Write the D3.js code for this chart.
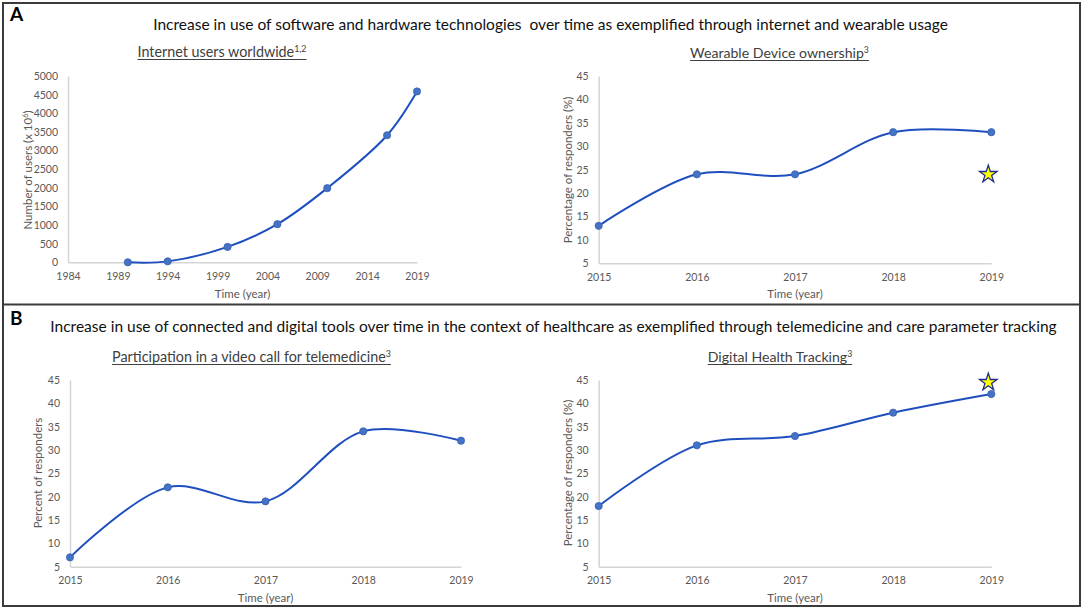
<!DOCTYPE html>
<html>
<head>
<meta charset="utf-8">
<script src="https://cdn.jsdelivr.net/npm/d3@7"></script>
<style>
  body { margin: 0; background: #fff; }
  svg { display: block; font-family: Lato, "Open Sans", sans-serif; }
</style>
</head>
<body>
<script>
// data
const internetYears = [1990, 1994, 2000, 2005, 2010, 2016, 2019];
const internetUsers = [0, 25, 413, 1023, 1990, 3410, 4585];
const internetXTicks = [1984, 1989, 1994, 1999, 2004, 2009, 2014, 2019];
const internetYTicks = [0, 500, 1000, 1500, 2000, 2500, 3000, 3500, 4000, 4500, 5000];

const surveyYears = [2015, 2016, 2017, 2018, 2019];
const wearableOwnership = [13, 24, 24, 33, 33];
const telemedicineVideo = [7, 22, 19, 34, 32];
const healthTracking = [18, 31, 33, 38, 42];
const percentTicks = [5, 10, 15, 20, 25, 30, 35, 40, 45];

const wearableStar = [2019, 24];
const trackingStar = [2019, 44.5];

const titleA = "Increase in use of software and hardware technologies  over time as exemplified through internet and wearable usage";
const titleB = "Increase in use of connected and digital tools over time in the context of healthcare as exemplified through telemedicine and care parameter tracking";

var width = 1084;
var height = 610;

var svg = d3.select('body').append('svg')
      .attr('width', width)
      .attr('height', height);

// frame
svg.append('rect')
    .attr('x', 3).attr('y', 3)
    .attr('width', 1077).attr('height', 603)
    .attr('fill', 'none')
    .attr('stroke', '#3b3b3b')
    .attr('stroke-width', 2);
svg.append('line')
    .attr('x1', 3).attr('x2', 1080)
    .attr('y1', 304.5).attr('y2', 304.5)
    .attr('stroke', '#3b3b3b')
    .attr('stroke-width', 2);

// shrink or grow a text so it spans the wanted width
function fit_width(txt, w) {
    var fs = parseFloat(txt.attr('font-size'));
    var len = txt.node().getComputedTextLength();
    txt.attr('font-size', (fs * w / len).toFixed(2));
}

svg.append('text').attr('x', 10).attr('y', 21)
    .attr('font-size', 19).attr('font-weight', 'bold').text('A');
svg.append('text').attr('x', 10).attr('y', 325)
    .attr('font-size', 19).attr('font-weight', 'bold').text('B');

var tA = svg.append('text').attr('x', 550.5).attr('y', 29.5)
    .attr('text-anchor', 'middle').attr('font-size', 15).attr('fill', '#111')
    .attr('xml:space', 'preserve').text(titleA);
fit_width(tA, 795);
var tB = svg.append('text').attr('x', 553.5).attr('y', 331.5)
    .attr('text-anchor', 'middle').attr('font-size', 15).attr('fill', '#111')
    .text(titleB);
fit_width(tB, 1007);

const charts = [
  { title: 'Internet users worldwide', sup: '1,2', cx: 222, ty: 57, tw: 169,
    x0: 68, x1: 417, yTop: 76, yBot: 262.3,
    xDomain: [1984, 2019], yDomain: [0, 5000],
    xTicks: internetXTicks, yTicks: internetYTicks,
    years: internetYears, values: internetUsers,
    yLabel: ['Number of users (x 10', '6', ')'], ylx: 28, yly: 170,
    xLabelY: 298, star: null },
  { title: 'Wearable Device ownership', sup: '3', cx: 779.5, ty: 58, tw: 179,
    x0: 598.7, x1: 991.3, yTop: 76, yBot: 263.3,
    xDomain: [2015, 2019], yDomain: [5, 45],
    xTicks: surveyYears, yTicks: percentTicks,
    years: surveyYears, values: wearableOwnership,
    yLabel: ['Percentage of responders (%)'], ylx: 568, yly: 170,
    xLabelY: 298, star: wearableStar },
  { title: 'Participation in a video call for telemedicine', sup: '3', cx: 251.5, ty: 362, tw: 279,
    x0: 70, x1: 461, yTop: 380, yBot: 566.7,
    xDomain: [2015, 2019], yDomain: [5, 45],
    xTicks: surveyYears, yTicks: percentTicks,
    years: surveyYears, values: telemedicineVideo,
    yLabel: ['Percent of responders'], ylx: 38, yly: 473,
    xLabelY: 602, star: null },
  { title: 'Digital Health Tracking', sup: '3', cx: 780, ty: 362, tw: 144.5,
    x0: 598.7, x1: 991.3, yTop: 380, yBot: 566.7,
    xDomain: [2015, 2019], yDomain: [5, 45],
    xTicks: surveyYears, yTicks: percentTicks,
    years: surveyYears, values: healthTracking,
    yLabel: ['Percentage of responders (%)'], ylx: 568, yly: 473,
    xLabelY: 602, star: trackingStar }
];

charts.forEach(function (c) {
    var x = d3.scaleLinear().domain(c.xDomain).range([c.x0, c.x1]);
    var y = d3.scaleLinear().domain(c.yDomain).range([c.yBot, c.yTop]);

    // chart title, underlined
    var t = svg.append('text').attr('x', c.cx).attr('y', c.ty)
        .attr('text-anchor', 'middle').attr('font-size', 14).attr('fill', '#404040');
    t.append('tspan').text(c.title);
    t.append('tspan').attr('dy', -5).attr('font-size', '0.62em').text(c.sup);
    fit_width(t, c.tw);
    var bb = t.node().getBBox();
    svg.append('line')
        .attr('x1', bb.x).attr('x2', bb.x + bb.width)
        .attr('y1', c.ty + 2.5).attr('y2', c.ty + 2.5)
        .attr('stroke', '#404040').attr('stroke-width', 1);

    var xAxis = svg.append('g')
        .attr('transform', 'translate(0,' + c.yBot + ')')
        .call(d3.axisBottom(x).tickValues(c.xTicks).tickFormat(d3.format('d'))
              .tickSize(0).tickPadding(10));
    var yAxis = svg.append('g')
        .attr('transform', 'translate(' + c.x0 + ',0)')
        .call(d3.axisLeft(y).tickValues(c.yTicks).tickFormat(d3.format('d'))
              .tickSize(0).tickPadding(10));
    [xAxis, yAxis].forEach(function (a) {
        a.select('.domain').attr('stroke', '#d4d4d4').attr('stroke-width', 1.5);
        a.selectAll('text').attr('font-size', 10.5).attr('fill', '#595959')
            .attr('font-family', 'Lato, sans-serif');
    });

    svg.append('text').attr('x', (c.x0 + c.x1) / 2).attr('y', c.xLabelY)
        .attr('text-anchor', 'middle').attr('font-size', 11.5).attr('fill', '#595959')
        .text('Time (year)');

    var yl = svg.append('text')
        .attr('transform', 'translate(' + c.ylx + ',' + c.yly + ') rotate(-90)')
        .attr('text-anchor', 'middle').attr('dy', '0.35em')
        .attr('font-size', 11.5).attr('fill', '#595959');
    yl.append('tspan').text(c.yLabel[0]);
    if (c.yLabel.length > 1) {
        yl.append('tspan').attr('dy', -4).attr('font-size', '0.65em').text(c.yLabel[1]);
        yl.append('tspan').attr('dy', 4).text(c.yLabel[2]);
    }

    var pts = c.years.map(function (d, i) { return [d, c.values[i]]; });
    var line = d3.line()
        .x(function (d) { return x(d[0]); })
        .y(function (d) { return y(d[1]); })
        .curve(d3.curveCatmullRom.alpha(0.5));
    svg.append('path')
        .attr('d', line(pts))
        .attr('fill', 'none')
        .attr('stroke', '#1f4fbf')
        .attr('stroke-width', 2);

    svg.selectAll(null)
        .data(pts)
        .enter()
        .append('circle')
        .attr('cx', function (d) { return x(d[0]); })
        .attr('cy', function (d) { return y(d[1]); })
        .attr('r', 3.6)
        .attr('fill', '#4472c4')
        .attr('stroke', '#3560b0')
        .attr('stroke-width', 0.8);

    if (c.star) {
        svg.append('path')
            .attr('d', d3.symbol(d3.symbolStar, 95)())
            .attr('transform', 'translate(' + (x(c.star[0]) - 3) + ',' + y(c.star[1]) + ')')
            .attr('fill', '#ffff00')
            .attr('stroke', '#1f2f8f')
            .attr('stroke-width', 1.3);
    }
});
</script>
</body>
</html>
